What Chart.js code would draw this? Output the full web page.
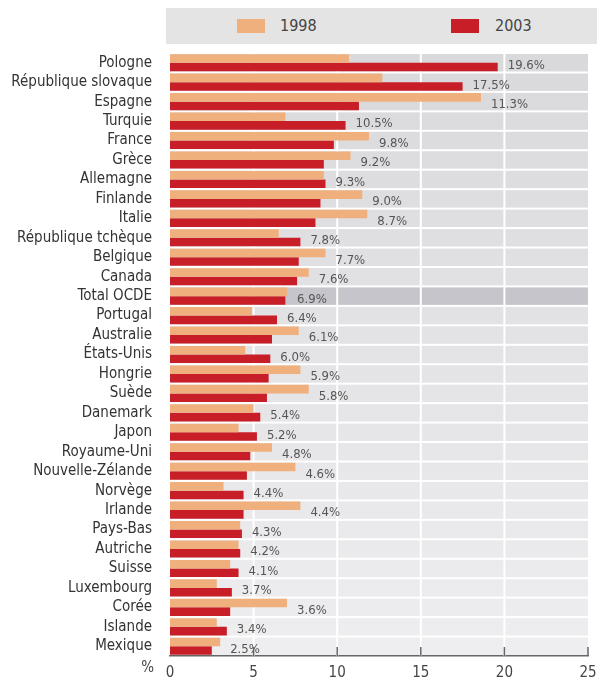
<!DOCTYPE html>
<html>
<head>
<meta charset="utf-8">
<script src="https://cdn.jsdelivr.net/npm/chart.js@4.4.1/dist/chart.umd.min.js"></script>
<style>
  body { margin: 0; background: #fff; }
  #wrap { position: relative; width: 597px; height: 683px; }
  #legend {
    position: absolute; left: 166px; top: 8px; width: 431px; height: 36px;
    background: #e4e4e4; color: #444;
    font: 16px "Liberation Sans Narrow", "DejaVu Sans Condensed", sans-serif;
  }
  #legend .sw { position: absolute; top: 11px; width: 28px; height: 14px; }
  #legend .lb { position: absolute; top: 9px; line-height: 18px; }
</style>
</head>
<body>
<div id="wrap">
  <canvas id="chart" width="597" height="683"></canvas>
  <div id="legend">
    <span class="sw" style="left:71px;background:#f0b07e"></span>
    <span class="lb" style="left:114px">1998</span>
    <span class="sw" style="left:285px;background:#c81e28"></span>
    <span class="lb" style="left:329px">2003</span>
  </div>
</div>
<script>
var countries = ["Pologne", "République slovaque", "Espagne", "Turquie", "France", "Grèce",
  "Allemagne", "Finlande", "Italie", "République tchèque", "Belgique", "Canada", "Total OCDE",
  "Portugal", "Australie", "États-Unis", "Hongrie", "Suède", "Danemark", "Japon", "Royaume-Uni",
  "Nouvelle-Zélande", "Norvège", "Irlande", "Pays-Bas", "Autriche", "Suisse", "Luxembourg",
  "Corée", "Islande", "Mexique"];
var values1998 = [10.7, 12.7, 18.6, 6.9, 11.9, 10.8, 9.2, 11.5, 11.8, 6.5, 9.3, 8.3, 7.0,
  4.9, 7.7, 4.5, 7.8, 8.3, 5.0, 4.1, 6.1, 7.5, 3.2, 7.8, 4.2, 4.1, 3.6, 2.8, 7.0, 2.8, 3.0];
var values2003 = [19.6, 17.5, 11.3, 10.5, 9.8, 9.2, 9.3, 9.0, 8.7, 7.8, 7.7, 7.6, 6.9,
  6.4, 6.1, 6.0, 5.9, 5.8, 5.4, 5.2, 4.8, 4.6, 4.4, 4.4, 4.3, 4.2, 4.1, 3.7, 3.6, 3.4, 2.5];
var xTicks = [0, 5, 10, 15, 20, 25];
var totalRow = "Total OCDE";

var narrow = '"Liberation Sans Narrow", "DejaVu Sans Condensed", sans-serif';

// Row bands and white grid lines behind the bars
var backdrop = {
  id: "backdrop",
  beforeDatasetsDraw: function (chart) {
    var ctx = chart.ctx, area = chart.chartArea;
    var x = chart.scales.x, y = chart.scales.y;
    var step = (area.bottom - area.top) / countries.length;
    var grad = ctx.createLinearGradient(0, area.top, 0, area.bottom);
    grad.addColorStop(0, "#d9d9dc");
    grad.addColorStop(1, "#eeeef0");
    ctx.save();
    countries.forEach(function (c, i) {
      var yc = y.getPixelForValue(i);
      ctx.fillStyle = c === totalRow ? "#c5c5cb" : grad;
      ctx.fillRect(area.left, yc - step / 2 + 1, area.right - area.left, step - 2);
    });
    ctx.fillStyle = "#fff";
    xTicks.slice(1, -1).forEach(function (v) {
      var px = x.getPixelForValue(v);
      ctx.fillRect(px - 1, area.top, 2, area.bottom - area.top);
    });
    ctx.restore();
  },
  afterDatasetsDraw: function (chart) {
    var ctx = chart.ctx, area = chart.chartArea;
    var x = chart.scales.x, y = chart.scales.y;
    ctx.save();
    // value labels (2003)
    ctx.font = "13px " + narrow;
    ctx.fillStyle = "#555";
    ctx.textAlign = "left";
    ctx.textBaseline = "middle";
    values2003.forEach(function (v, i) {
      var end = x.getPixelForValue(Math.max(v, values1998[i]));
      ctx.fillText(v.toFixed(1) + "%", end + 10, y.getPixelForValue(i) + 3);
    });
    // inner tick marks
    ctx.strokeStyle = "#666";
    ctx.lineWidth = 1.5;
    xTicks.slice(1).forEach(function (v) {
      var px = x.getPixelForValue(v);
      ctx.beginPath();
      ctx.moveTo(px, area.bottom);
      ctx.lineTo(px, area.bottom - 9);
      ctx.stroke();
    });
    // unit
    ctx.font = "15px " + narrow;
    ctx.fillStyle = "#444";
    ctx.textAlign = "right";
    ctx.fillText("%", area.left - 16, area.bottom + 12);
    ctx.restore();
  }
};

new Chart(document.getElementById("chart"), {
  type: "bar",
  data: {
    labels: countries,
    datasets: [{
      label: "1998",
      data: values1998,
      backgroundColor: "#f0b07e",
      categoryPercentage: 0.88,
      barPercentage: 1.0
    }, {
      label: "2003",
      data: values2003,
      backgroundColor: "#c81e28",
      categoryPercentage: 0.88,
      barPercentage: 1.0
    }]
  },
  options: {
    indexAxis: "y",
    responsive: false,
    animation: false,
    layout: { padding: { top: 53, right: 9, left: 0, bottom: 0 } },
    plugins: { legend: { display: false }, tooltip: { enabled: false } },
    scales: {
      x: {
        min: 0, max: 25,
        grid: { display: false },
        border: { display: true, color: "#666", width: 1.5 },
        ticks: { stepSize: 5, color: "#444", font: { size: 15, family: narrow }, padding: 0 },
        afterFit: function (scale) { scale.height = 26; }
      },
      y: {
        grid: { display: false, drawTicks: false },
        border: { display: false },
        ticks: { color: "#333", font: { size: 15, family: narrow }, padding: 18, autoSkip: false },
        afterFit: function (scale) { scale.width = 170; }
      }
    }
  },
  plugins: [backdrop]
});
</script>
</body>
</html>
